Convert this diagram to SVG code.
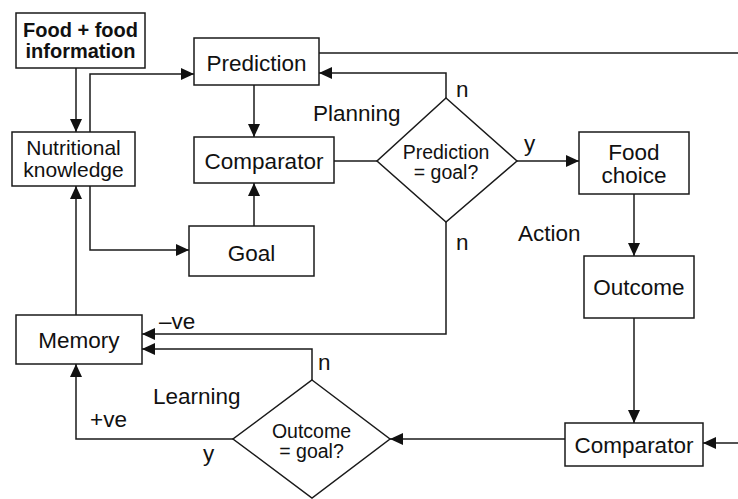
<svg xmlns="http://www.w3.org/2000/svg" width="738" height="499" viewBox="0 0 738 499">
<style>
.box{fill:#fff;stroke:#1a1a1a;stroke-width:1.5}
.t{font-family:"Liberation Sans",Arial,sans-serif;font-size:22.5px;fill:#111;text-anchor:middle}
.n{font-family:"Liberation Sans",Arial,sans-serif;font-size:21px;fill:#111;text-anchor:middle}
.b{font-family:"Liberation Sans",Arial,sans-serif;font-size:20px;font-weight:bold;fill:#111;text-anchor:middle}
.d{font-family:"Liberation Sans",Arial,sans-serif;font-size:19.5px;fill:#111;text-anchor:middle}
.l{font-family:"Liberation Sans",Arial,sans-serif;font-size:22.5px;fill:#111}
.c{fill:none;stroke:#1a1a1a;stroke-width:1.5}
</style>
<defs>
<marker id="ah" markerUnits="userSpaceOnUse" markerWidth="13" markerHeight="12" refX="13" refY="6" orient="auto">
<path d="M0,0 L13,6 L0,12 z" fill="#111"/>
</marker>
</defs>
<rect width="738" height="499" fill="#fff"/>
<g id="connectors">
<path class="c" d="M76,68 V132" marker-end="url(#ah)"/>
<path class="c" d="M90,132 V74 H194" marker-end="url(#ah)"/>
<path class="c" d="M90,186 V250 H189" marker-end="url(#ah)"/>
<path class="c" d="M76,315 V186" marker-end="url(#ah)"/>
<path class="c" d="M254,85 V137" marker-end="url(#ah)"/>
<path class="c" d="M254,226 V183" marker-end="url(#ah)"/>
<path class="c" d="M319,53 H738"/>
<path class="c" d="M334,161 H377"/>
<path class="c" d="M446,98 V73 H319" marker-end="url(#ah)"/>
<path class="c" d="M517,161 H579" marker-end="url(#ah)"/>
<path class="c" d="M446,222 V334 H142" marker-end="url(#ah)"/>
<path class="c" d="M634,194 V256" marker-end="url(#ah)"/>
<path class="c" d="M634,318 V423" marker-end="url(#ah)"/>
<path class="c" d="M738,443 H703" marker-end="url(#ah)"/>
<path class="c" d="M565,439 H390" marker-end="url(#ah)"/>
<path class="c" d="M312,380 V349 H142" marker-end="url(#ah)"/>
<path class="c" d="M233,439 H76 V364" marker-end="url(#ah)"/>
</g>
<g id="food-info">
<rect class="box" x="16" y="13" width="129" height="55"/>
<text class="b" x="80.5" y="37">Food + food</text>
<text class="b" x="80.5" y="58">information</text>
</g>
<g id="prediction">
<rect class="box" x="194" y="38" width="125" height="47"/>
<text class="t" x="256.5" y="71">Prediction</text>
</g>
<g id="nutritional">
<rect class="box" x="12" y="132" width="123" height="54"/>
<text class="n" x="73.5" y="155">Nutritional</text>
<text class="n" x="73.5" y="177">knowledge</text>
</g>
<g id="comparator1">
<rect class="box" x="194" y="137" width="140" height="46"/>
<text class="t" x="264" y="169">Comparator</text>
</g>
<g id="goal">
<rect class="box" x="189" y="226" width="125" height="50"/>
<text class="t" x="251.5" y="261">Goal</text>
</g>
<g id="memory">
<rect class="box" x="16" y="315" width="126" height="49"/>
<text class="t" x="79" y="348">Memory</text>
</g>
<g id="decision1">
<polygon class="box" points="446,98 517,161 446,222 377,161"/>
<text class="d" x="446" y="159">Prediction</text>
<text class="d" x="446" y="179">= goal?</text>
</g>
<g id="food-choice">
<rect class="box" x="579" y="132" width="110" height="62"/>
<text class="t" x="634" y="160">Food</text>
<text class="t" x="634" y="183">choice</text>
</g>
<g id="outcome">
<rect class="box" x="584" y="256" width="110" height="62"/>
<text class="t" x="639" y="295">Outcome</text>
</g>
<g id="comparator2">
<rect class="box" x="565" y="423" width="138" height="43"/>
<text class="t" x="634" y="453">Comparator</text>
</g>
<g id="decision2">
<polygon class="box" points="312,380 390,439 312,498 233,439"/>
<text class="d" x="311.5" y="438">Outcome</text>
<text class="d" x="311.5" y="458">= goal?</text>
</g>
<g id="labels">
<text class="l" x="456" y="97">n</text>
<text class="l" x="313" y="121">Planning</text>
<text class="l" x="524" y="151">y</text>
<text class="l" x="518" y="241">Action</text>
<text class="l" x="456" y="250">n</text>
<text class="l" x="159" y="329">–ve</text>
<text class="l" x="318" y="370">n</text>
<text class="l" x="153" y="404">Learning</text>
<text class="l" x="90" y="427">+ve</text>
<text class="l" x="203" y="461">y</text>
</g>
</svg>
